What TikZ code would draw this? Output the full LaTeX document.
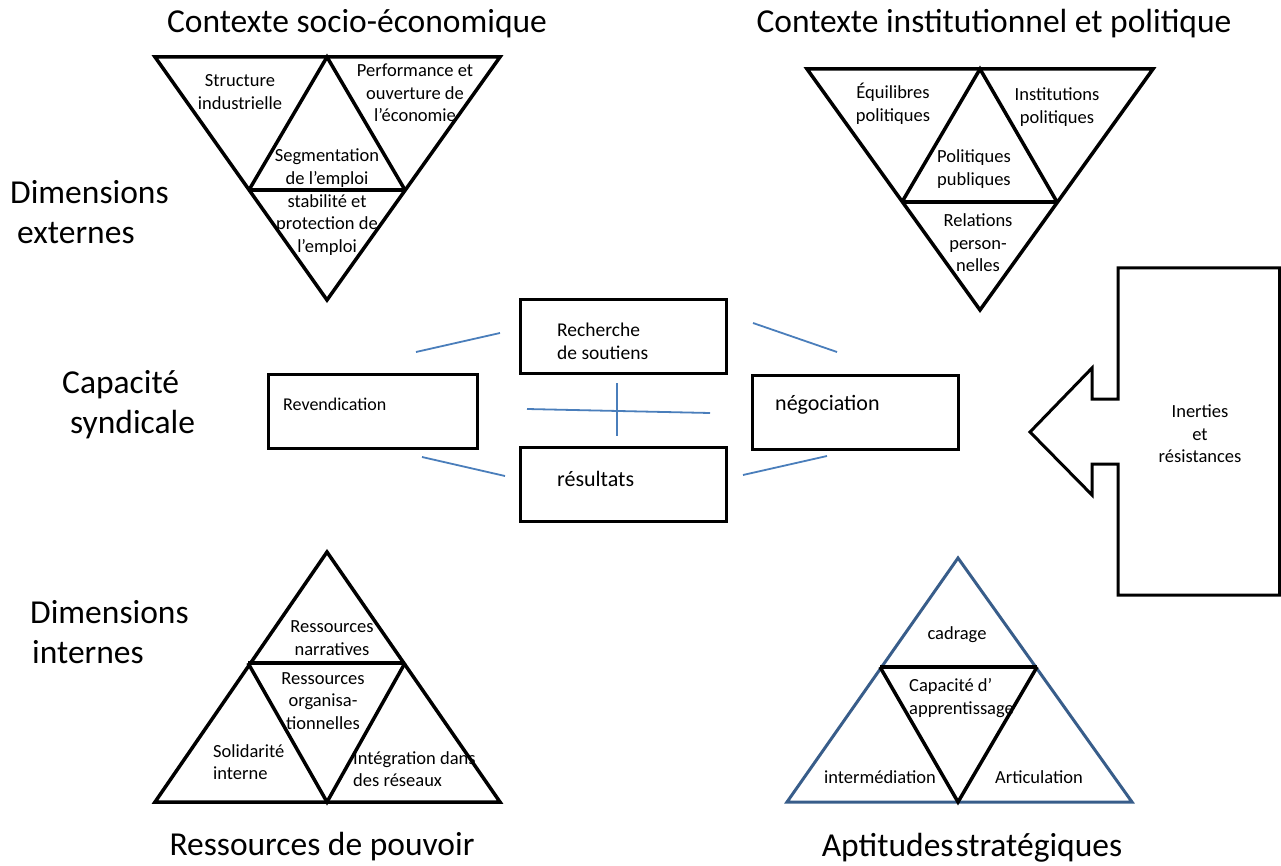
\documentclass[tikz,border=0pt]{standalone}
\usepackage{fontspec}
\setmainfont{Carlito}
\definecolor{connblue}{HTML}{4A7EBB}
\definecolor{triblue}{HTML}{385D8A}
\begin{document}
\begin{tikzpicture}[x=1pt,y=-1pt,
  tri/.style={draw=black, line width=3.5, line join=miter},
  bluetri/.style={draw=triblue, line width=3, line join=miter},
  box/.style={draw=black, line width=3, minimum width=206, minimum height=74, inner sep=0},
  conn/.style={draw=connblue, line width=1.8},
  big/.style={font=\fontsize{33.5}{40}\selectfont, inner sep=0},
  small/.style={font=\fontsize{18.5}{22.5}\selectfont, align=center, inner sep=0},
  boxtxt/.style={inner sep=0, anchor=west, align=left}]
\useasboundingbox (0,0) rectangle (1281,866);

% titles
\node[big] (t1) at (357,24) {Contexte socio-économique};
\node[big] (t2) at (994,24) {Contexte institutionnel et politique};
\node[big] (t3) at (322,847) {Ressources de pouvoir};
\node[big] (t4) at (972,848) {Aptitudes\hspace{2pt}stratégiques};

% left labels
\node[big, align=left, anchor=west] (dext) at (10,212) {Dimensions\\\hspace*{7pt}externes};
\node[big, align=left, anchor=west] (csyn) at (62,405) {Capacité\\\hspace*{8pt}syndicale};
\node[big, align=left, anchor=west] (dint) at (30,632) {Dimensions\\\hspace*{2pt}internes};

% top-left inverted triangle
\coordinate (a1) at (155,57);
\coordinate (a2) at (500,57);
\coordinate (a3) at (327,300);
\coordinate (am) at (327,57);
\coordinate (al) at (249,190);
\coordinate (ar) at (405,190);
\draw[tri] (a1) -- (a2) -- (a3) -- cycle;
\draw[tri] (al) -- (am) -- (ar);
\draw[tri] (al) -- (ar);
\node[small] (strind) at (240,92) {Structure\\industrielle};
\node[small] (perf) at (415,93) {Performance et\\ouverture de\\l’économie};
\node[small] (segm) at (327,168) {Segmentation\\de l’emploi};
\node[small] (stab) at (327,225) {stabilité et\\protection de\\l’emploi};

% top-right inverted triangle
\coordinate (b1) at (807,69);
\coordinate (b2) at (1153,69);
\coordinate (b3) at (980,310);
\coordinate (bm) at (980,69);
\coordinate (bl) at (902,202);
\coordinate (br) at (1057,202);
\draw[tri] (b1) -- (b2) -- (b3) -- cycle;
\draw[tri] (bl) -- (bm) -- (br);
\draw[tri] (bl) -- (br);
\node[small] (equi) at (893,104) {Équilibres\\politiques};
\node[small] (inst) at (1057,107) {Institutions\\politiques};
\node[small] (polpub) at (974,169) {Politiques\\publiques};
\node[small] (rel) at (978,243) {Relations\\person-\\nelles};

% central boxes
\node[box] (rech) at (623,336.5) {};
\node[box, minimum width=209] (reve) at (372.5,411.5) {};
\node[box] (nego) at (855,412) {};
\node[box] (resu) at (623,484) {};
\node[boxtxt, font=\fontsize{19.5}{23}\selectfont] (rechT) at (557,341) {Recherche\\de soutiens};
\node[boxtxt, font=\fontsize{18}{22}\selectfont] (reveT) at (283,404) {Revendication};
\node[boxtxt, font=\fontsize{22}{26}\selectfont] (negoT) at (775,405) {négociation};
\node[boxtxt, font=\fontsize{22}{26}\selectfont] (resuT) at (557,479) {résultats};

% blue connectors
\coordinate (c1a) at (416,352); \coordinate (c1b) at (500,333);
\coordinate (c2a) at (753,323); \coordinate (c2b) at (837,352);
\coordinate (c3a) at (527,409); \coordinate (c3b) at (710,413);
\coordinate (c4a) at (617,383); \coordinate (c4b) at (617,436);
\coordinate (c5a) at (422,457); \coordinate (c5b) at (505,476);
\coordinate (c6a) at (743,475); \coordinate (c6b) at (827,456);
\draw[conn] (c1a) -- (c1b);
\draw[conn] (c2a) -- (c2b);
\draw[conn] (c3a) -- (c3b);
\draw[conn] (c4a) -- (c4b);
\draw[conn] (c5a) -- (c5b);
\draw[conn] (c6a) -- (c6b);

% big left arrow
\draw[draw=black, line width=3, line join=miter]
  (1118,268) -- (1279.5,268) -- (1279.5,595) -- (1118,595) -- (1118,464)
  -- (1092,464) -- (1092,495) -- (1030,432) -- (1092,368) -- (1092,399)
  -- (1118,399) -- cycle;
\node[small] (inert) at (1200,434) {Inerties\\et\\résistances};

% bottom-left triangle
\coordinate (d1) at (155,802);
\coordinate (d2) at (500,802);
\coordinate (d3) at (327,552);
\coordinate (dm) at (327,802);
\coordinate (dl) at (248,663);
\coordinate (dr) at (405,663);
\draw[tri] (d1) -- (d2) -- (d3) -- cycle;
\draw[tri] (dl) -- (dm) -- (dr);
\draw[tri] (dl) -- (dr);
\node[small] (narr) at (332,638) {Ressources\\narratives};
\node[small] (org) at (323,701) {Ressources\\organisa-\\tionnelles};
\node[small, align=left, anchor=west] (soli) at (213,762) {Solidarité\\interne};
\node[small, align=left, anchor=west] (integ) at (353,769) {Intégration dans\\des réseaux};

% bottom-right triangle
\coordinate (e1) at (787,802);
\coordinate (e2) at (1132,802);
\coordinate (e3) at (958,558);
\coordinate (em) at (958,802);
\coordinate (el) at (880,667);
\coordinate (er) at (1037,667);
\draw[bluetri] (e1) -- (e2) -- (e3) -- cycle;
\draw[tri] (el) -- (em) -- (er);
\draw[tri] (el) -- (er);
\node[small] (cad) at (957,635) {cadrage};
\node[small, align=left, anchor=west] (capa) at (909,698) {Capacité d’\\apprentissage};
\node[small] (inter) at (880,777) {intermédiation};
\node[small] (artic) at (1039,777) {Articulation};

\end{tikzpicture}
\end{document}
